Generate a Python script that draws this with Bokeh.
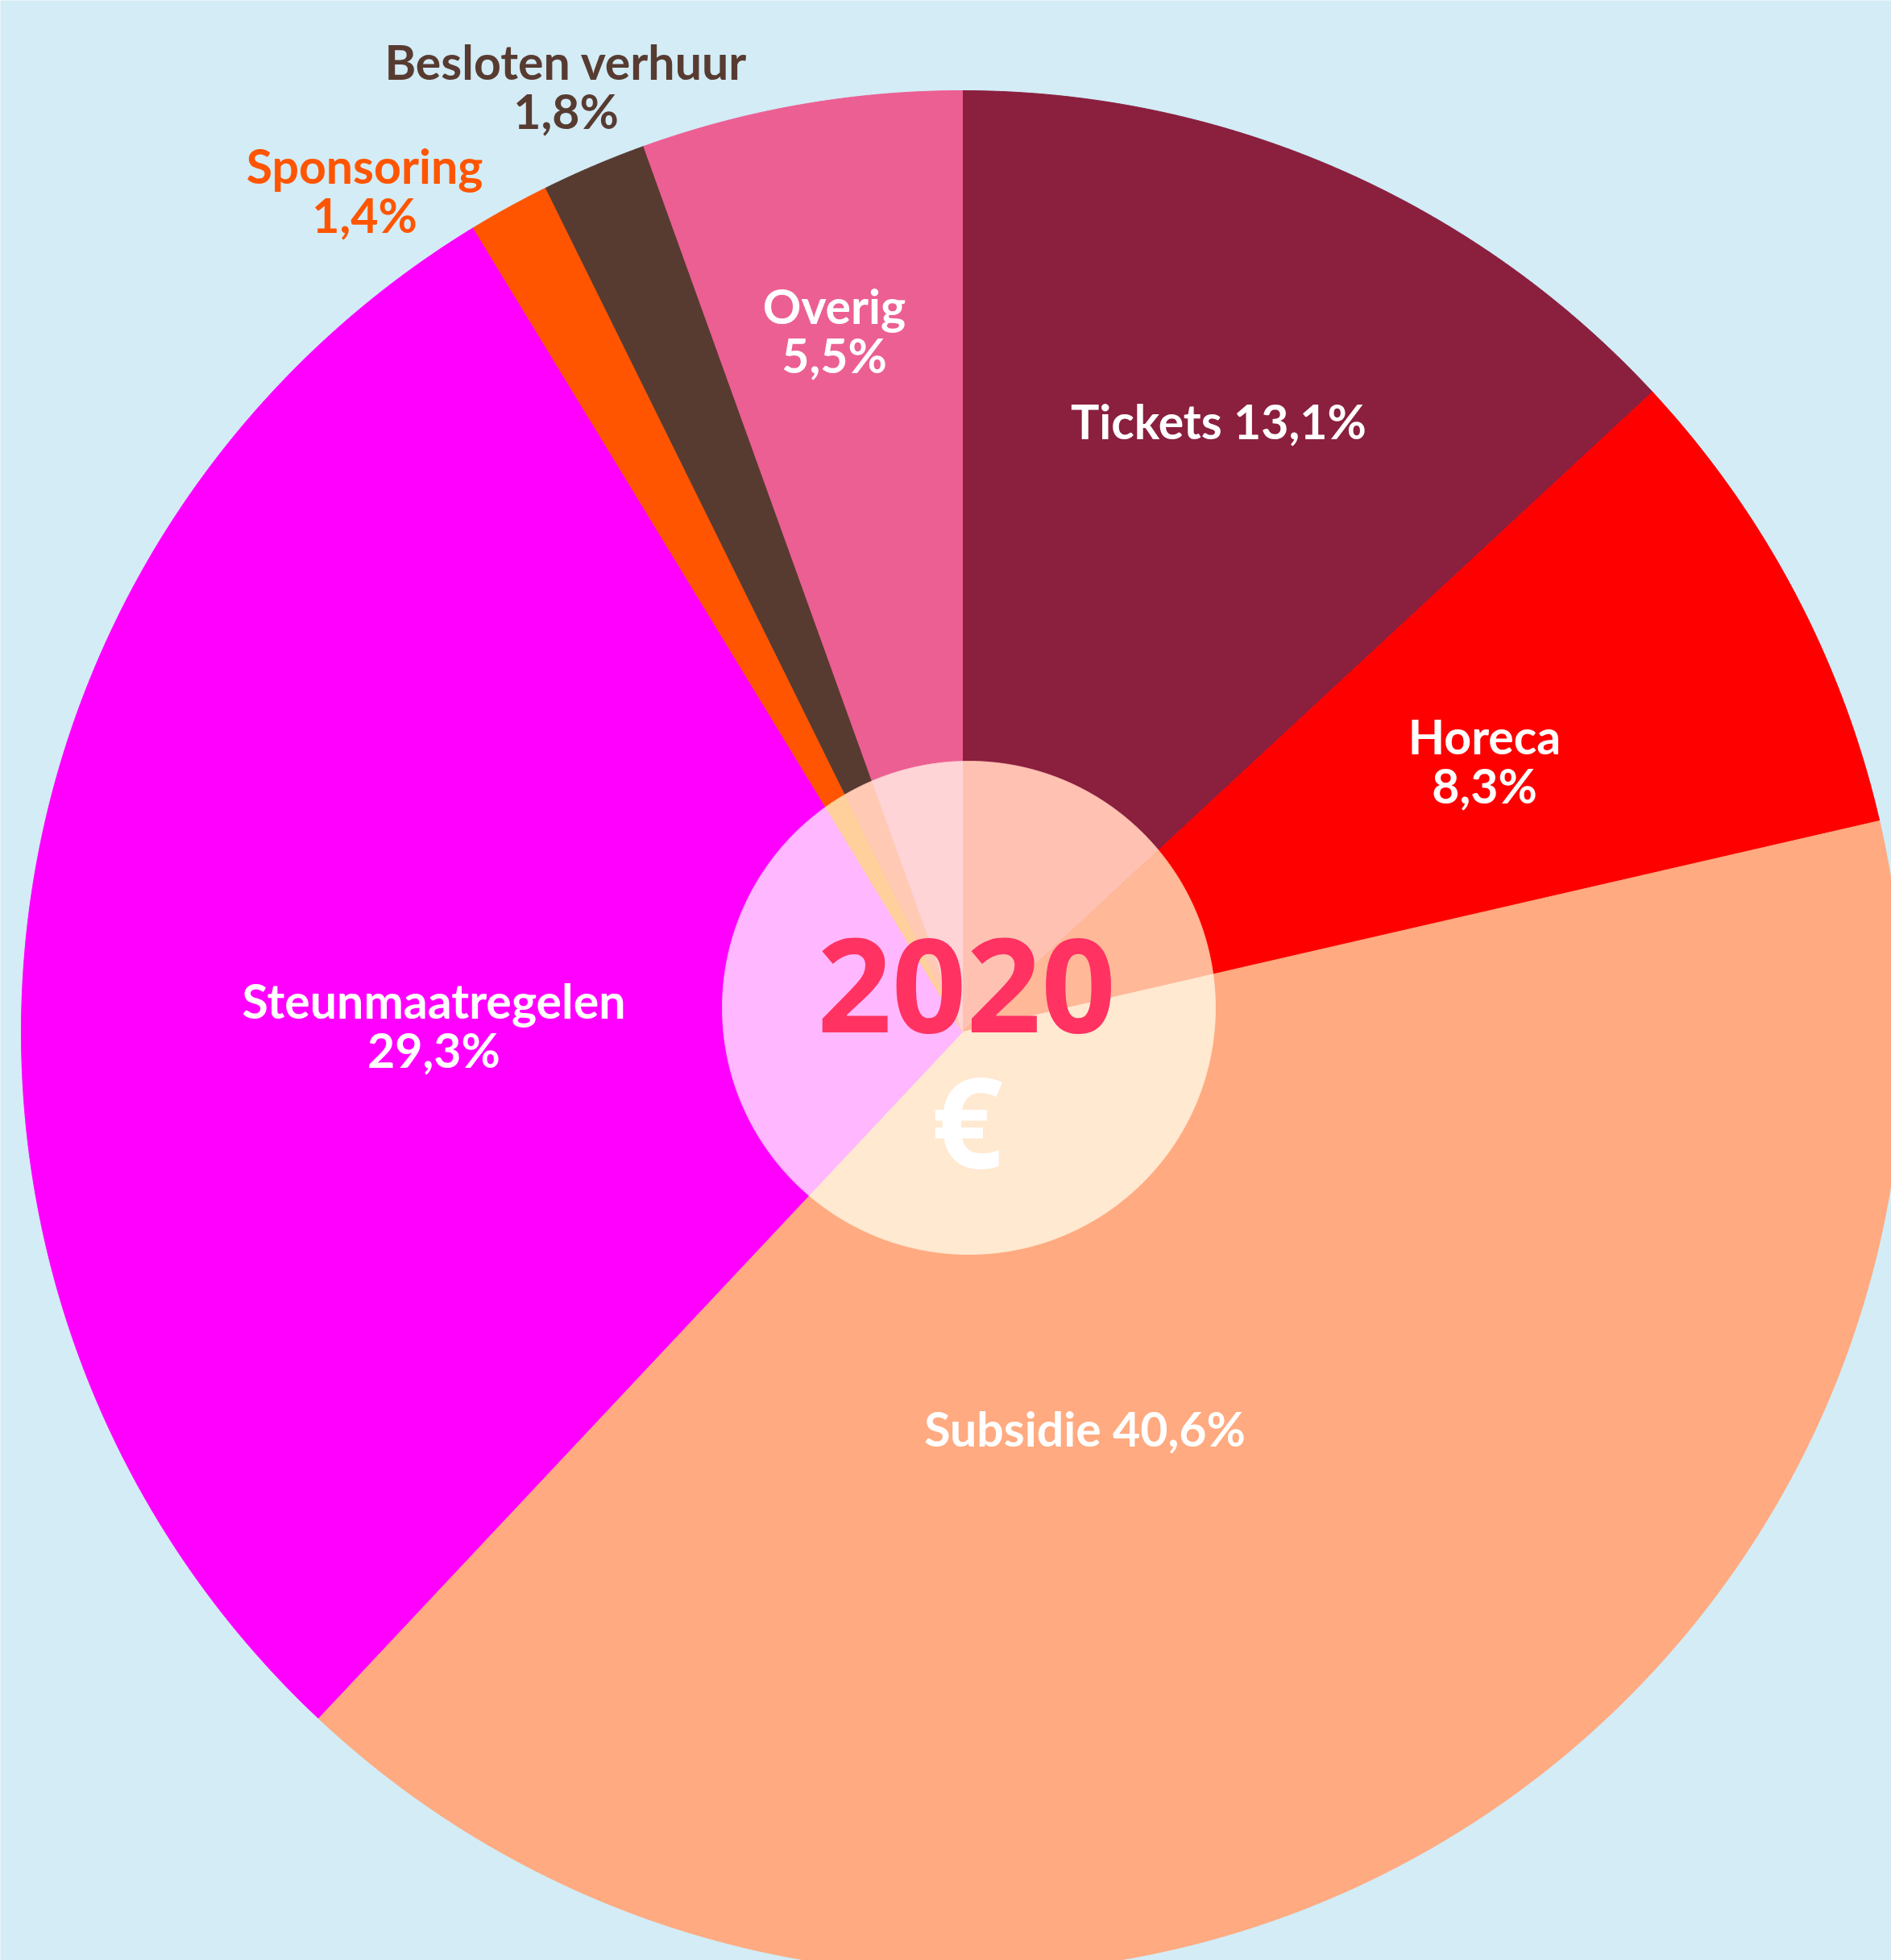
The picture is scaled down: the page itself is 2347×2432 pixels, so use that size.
import math
from bokeh.plotting import figure
from bokeh.models import Range1d, ColumnDataSource
from bokeh.core.properties import value
from bokeh.embed import file_html
from bokeh.resources import INLINE

# ---- data ----
categories = ["Tickets", "Horeca", "Subsidie", "Steunmaatregelen", "Sponsoring", "Besloten verhuur", "Overig"]
shares = [13.1, 8.3, 40.6, 29.3, 1.4, 1.8, 5.5]
share_labels = ["13,1%", "8,3%", "40,6%", "29,3%", "1,4%", "1,8%", "5,5%"]
year_label = "2020"
currency_label = "€"

# ---- style ----
colors = ["#8A1F3E", "#FF0000", "#FFAA80", "#FF00FF", "#FF5500", "#573B31", "#EC5F93"]
inner_colors = ["#FFC1B2", "#FFB898", "#FFE9D0", "#FFB8FF", "#FFD09C", "#FFC9B4", "#FFD4D6"]
label_colors = ["white", "white", "white", "white", "#FF5500", "#573B31", "white"]
label_x = [1512, 1842, 1346, 538, 452, 702, 1035]
label_y = [522, 913, 1772, 1241, 205, 76, 379]
one_line = [True, False, True, False, False, False, False]
line_gap = 61
bg = "#D3ECF6"

W, H = 2347, 2432
cx, cy, R = 1194.0, 1280.0, 1168.0
icx, icy, ir = 1202.0, 1250.0, 306.0

p = figure(width=W, height=H, x_range=Range1d(0, W), y_range=Range1d(H, 0),
           output_backend="svg", toolbar_location=None, min_border=0)
p.axis.visible = False
p.grid.visible = False
p.outline_line_color = None
p.background_fill_color = bg
p.border_fill_color = bg

total = sum(shares)
cum = [0.0]
for s in shares:
    cum.append(cum[-1] + s / total)

def outer_pt(t):
    return cx + R * math.sin(t), cy - R * math.cos(t)

def inner_pt(t):
    dx, dy = math.sin(t), -math.cos(t)
    px, py = cx - icx, cy - icy
    b = dx * px + dy * py
    c = px * px + py * py - ir * ir
    tt = -b + math.sqrt(b * b - c)
    return cx + tt * dx, cy + tt * dy

xs_o, ys_o, xs_i, ys_i = [], [], [], []
for i in range(len(shares)):
    a0, a1 = 2 * math.pi * cum[i], 2 * math.pi * cum[i + 1]
    n = max(4, int((a1 - a0) / 0.002))
    xo, yo, xi, yi = [cx], [cy], [cx], [cy]
    for k in range(n + 1):
        t = a0 + (a1 - a0) * k / n
        x, y = outer_pt(t); xo.append(x); yo.append(y)
        x, y = inner_pt(t); xi.append(x); yi.append(y)
    xs_o.append(xo); ys_o.append(yo); xs_i.append(xi); ys_i.append(yi)

p.patches(xs=xs_o, ys=ys_o, fill_color=colors, line_color=colors, line_width=1)
p.patches(xs=xs_i, ys=ys_i, fill_color=inner_colors, line_color=inner_colors, line_width=1)

# labels
tx, ty, tt, tc = [], [], [], []
for i, cat in enumerate(categories):
    if one_line[i]:
        tx.append(label_x[i]); ty.append(label_y[i]); tt.append(cat + " " + share_labels[i]); tc.append(label_colors[i])
    else:
        tx.append(label_x[i]); ty.append(label_y[i]); tt.append(cat); tc.append(label_colors[i])
        tx.append(label_x[i]); ty.append(label_y[i] + line_gap); tt.append(share_labels[i]); tc.append(label_colors[i])

src = ColumnDataSource(dict(x=tx, y=ty, text=tt, color=tc))
p.text(x="x", y="y", text="text", source=src, text_color="color",
       text_font=value("Lato"), text_font_style="bold", text_font_size="59px",
       text_align="center", text_baseline="alphabetic")

p.text(x=[1199], y=[1222], text=[year_label], text_color="#FF3262",
       text_font=value("Open Sans"), text_font_style="bold", text_font_size="162px",
       text_align="center", text_baseline="alphabetic")
p.text(x=[1200], y=[1388], text=[currency_label], text_color="white",
       text_font=value("Open Sans"), text_font_style="bold", text_font_size="156px",
       text_align="center", text_baseline="alphabetic")

open("out.html", "w").write(file_html(p, INLINE))
